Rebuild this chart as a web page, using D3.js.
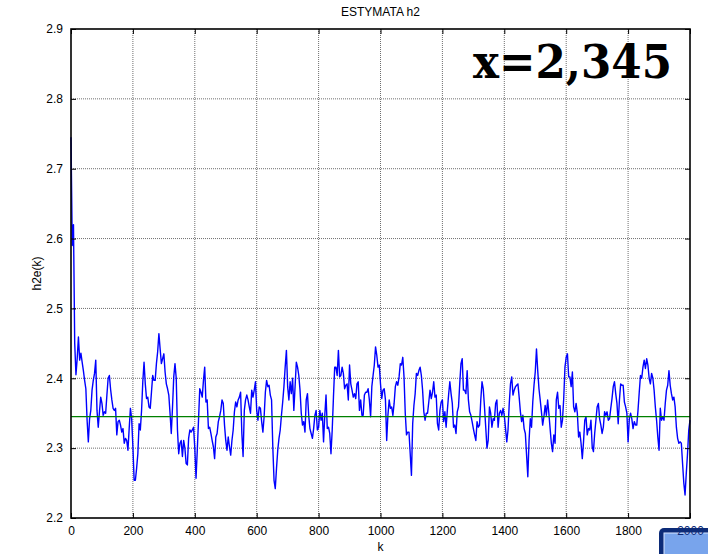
<!DOCTYPE html>
<html>
<head>
<meta charset="utf-8">
<script src="https://cdn.jsdelivr.net/npm/d3@7"></script>
<style>
  html, body { margin: 0; padding: 0; background: #fff; }
  svg { display: block; font-family: "Liberation Sans", Arial, sans-serif; }
</style>
</head>
<body>
<svg id="chart" width="708" height="554"></svg>
<script>
const h2e_0_400 = [
  2.745, 2.59, 2.62, 2.45, 2.405, 2.428, 2.459, 2.426, 2.436, 2.423,
  2.411, 2.397, 2.385, 2.34, 2.309, 2.342, 2.354, 2.383, 2.397, 2.407,
  2.426, 2.354, 2.33, 2.352, 2.373, 2.364, 2.347, 2.352, 2.35, 2.376,
  2.40, 2.404, 2.384, 2.369, 2.357, 2.354, 2.357, 2.319, 2.338, 2.34,
  2.333, 2.323, 2.328, 2.307, 2.314, 2.311, 2.297, 2.328, 2.357, 2.342,
  2.302, 2.254, 2.254, 2.271, 2.292, 2.335, 2.326, 2.354, 2.395, 2.423,
  2.392, 2.371, 2.373, 2.359, 2.357, 2.38, 2.404, 2.397, 2.397, 2.421,
  2.438, 2.464, 2.442, 2.421, 2.428, 2.435, 2.409, 2.392, 2.385, 2.376,
  2.35, 2.321, 2.359, 2.402, 2.421, 2.40, 2.326, 2.292, 2.307, 2.311,
  2.288, 2.311, 2.30, 2.278, 2.276, 2.314, 2.326, 2.323, 2.326, 2.33
];
const h2e_400_800 = [
  2.30, 2.257, 2.297, 2.34, 2.385, 2.38, 2.373, 2.397, 2.416, 2.366,
  2.369, 2.328, 2.33, 2.321, 2.311, 2.302, 2.285, 2.316, 2.321, 2.338,
  2.345, 2.354, 2.369, 2.364, 2.333, 2.311, 2.297, 2.316, 2.302, 2.29,
  2.311, 2.326, 2.352, 2.366, 2.359, 2.369, 2.373, 2.38, 2.321, 2.288,
  2.354, 2.369, 2.376, 2.369, 2.359, 2.35, 2.383, 2.373, 2.383, 2.395,
  2.354, 2.34, 2.359, 2.357, 2.338, 2.323, 2.345, 2.38, 2.397, 2.388,
  2.39, 2.376, 2.369, 2.302, 2.254, 2.242, 2.271, 2.297, 2.314, 2.326,
  2.347, 2.366, 2.388, 2.416, 2.44, 2.388, 2.369, 2.395, 2.378, 2.40,
  2.354, 2.388, 2.423, 2.416, 2.404, 2.383, 2.35, 2.333, 2.338, 2.323,
  2.369, 2.378, 2.347, 2.328, 2.321, 2.314, 2.328, 2.347, 2.354, 2.326
];
const h2e_800_1200 = [
  2.33, 2.354, 2.34, 2.35, 2.309, 2.347, 2.376, 2.328, 2.33, 2.321,
  2.292, 2.326, 2.373, 2.416, 2.416, 2.404, 2.44, 2.402, 2.404, 2.416,
  2.407, 2.385, 2.39, 2.392, 2.369, 2.419, 2.392, 2.383, 2.373, 2.378,
  2.371, 2.392, 2.395, 2.354, 2.369, 2.347, 2.347, 2.376, 2.38, 2.38,
  2.385, 2.369, 2.345, 2.388, 2.404, 2.419, 2.445, 2.433, 2.416, 2.419,
  2.392, 2.371, 2.383, 2.385, 2.369, 2.311, 2.347, 2.369, 2.357, 2.359,
  2.347, 2.364, 2.388, 2.395, 2.39, 2.402, 2.421, 2.419, 2.43, 2.402,
  2.35, 2.319, 2.323, 2.323, 2.292, 2.261, 2.335, 2.361, 2.378, 2.407,
  2.404, 2.411, 2.416, 2.404, 2.383, 2.352, 2.34, 2.35, 2.35, 2.366,
  2.383, 2.371, 2.38, 2.395, 2.373, 2.376, 2.335, 2.326, 2.354, 2.366
];
const h2e_1200_1600 = [
  2.369, 2.338, 2.352, 2.33, 2.354, 2.376, 2.395, 2.378, 2.364, 2.33,
  2.333, 2.321, 2.352, 2.359, 2.392, 2.421, 2.428, 2.383, 2.383, 2.378,
  2.411, 2.369, 2.352, 2.347, 2.338, 2.328, 2.319, 2.311, 2.338, 2.33,
  2.333, 2.369, 2.395, 2.385, 2.359, 2.33, 2.30, 2.311, 2.359, 2.35,
  2.33, 2.342, 2.34, 2.364, 2.369, 2.33, 2.35, 2.354, 2.347, 2.357,
  2.347, 2.328, 2.309, 2.326, 2.364, 2.392, 2.402, 2.376, 2.383, 2.388,
  2.39, 2.392, 2.373, 2.352, 2.338, 2.347, 2.328, 2.321, 2.29, 2.259,
  2.311, 2.342, 2.33, 2.366, 2.39, 2.409, 2.442, 2.411, 2.385, 2.369,
  2.352, 2.333, 2.345, 2.361, 2.347, 2.369, 2.35, 2.328, 2.307, 2.295,
  2.319, 2.307, 2.369, 2.38, 2.357, 2.361, 2.33, 2.34, 2.371, 2.416
];
const h2e_1600_2000 = [
  2.43, 2.435, 2.402, 2.402, 2.388, 2.409, 2.359, 2.352, 2.364, 2.35,
  2.316, 2.323, 2.307, 2.285, 2.309, 2.34, 2.345, 2.319, 2.328, 2.326,
  2.34, 2.302, 2.295, 2.321, 2.34, 2.359, 2.364, 2.342, 2.333, 2.321,
  2.33, 2.352, 2.347, 2.352, 2.34, 2.342, 2.357, 2.371, 2.388, 2.395,
  2.378, 2.364, 2.335, 2.369, 2.392, 2.39, 2.39, 2.366, 2.359, 2.35,
  2.309, 2.342, 2.35, 2.342, 2.328, 2.338, 2.333, 2.333, 2.354, 2.38,
  2.404, 2.40, 2.416, 2.426, 2.414, 2.428, 2.419, 2.40, 2.392, 2.407,
  2.40, 2.383, 2.359, 2.34, 2.316, 2.297, 2.357, 2.34, 2.345, 2.34,
  2.364, 2.383, 2.39, 2.411, 2.39, 2.378, 2.369, 2.373, 2.359, 2.33,
  2.314, 2.307, 2.309, 2.307, 2.278, 2.25, 2.233, 2.264, 2.292, 2.326,
  2.34
];
const kStep = 4;
const trueValue = 2.345;
const xTicks = [0, 200, 400, 600, 800, 1000, 1200, 1400, 1600, 1800, 2000];
const yTicks = [2.2, 2.3, 2.4, 2.5, 2.6, 2.7, 2.8, 2.9];
const titleText = 'ESTYMATA h2';
const xLabel = 'k';
const yLabel = 'h2e(k)';
const noteText = 'x=2,345';

const h2e = [].concat(h2e_0_400, h2e_400_800, h2e_800_1200, h2e_1200_1600, h2e_1600_2000);

const svg = d3.select('#chart');
const margin = { top: 29, right: 18, bottom: 36, left: 71 };
const width = +svg.attr('width') - margin.left - margin.right;
const height = +svg.attr('height') - margin.top - margin.bottom;

const x = d3.scaleLinear().domain([0, 2000]).range([0, width]);
const y = d3.scaleLinear().domain([2.2, 2.9]).range([height, 0]);

// the blue button sitting over the bottom right corner
const badge = svg.append('g').attr('id', 'badge');
badge.append('rect')
  .attr('x', 659).attr('y', 528).attr('width', 60).attr('height', 34).attr('rx', 5)
  .attr('fill', '#0c2b78');
badge.append('rect')
  .attr('x', 664).attr('y', 533).attr('width', 50).attr('height', 30)
  .attr('fill', '#78a4ec')
  .attr('stroke', '#d7e5ff');

const g = svg.append('g')
  .attr('transform', `translate(${margin.left},${margin.top})`);

// dotted grid
g.append('g').attr('id', 'grid')
  .selectAll('line.v')
  .data(xTicks.slice(1, -1))
  .enter()
  .append('line')
  .attr('x1', d => x(d)).attr('x2', d => x(d))
  .attr('y1', 0).attr('y2', height)
  .attr('stroke', '#6e6e6e')
  .attr('stroke-dasharray', '1,1');

g.select('#grid')
  .selectAll('line.h')
  .data(yTicks.slice(1, -1))
  .enter()
  .append('line')
  .attr('x1', 0).attr('x2', width)
  .attr('y1', d => y(d)).attr('y2', d => y(d))
  .attr('stroke', '#6e6e6e')
  .attr('stroke-dasharray', '1,1');

const line = d3.line()
  .x((d, i) => x(i * kStep))
  .y(d => y(d));

g.append('path')
  .datum(h2e)
  .attr('fill', 'none')
  .attr('stroke', '#0000ff')
  .attr('stroke-width', 1.4)
  .attr('stroke-linejoin', 'round')
  .attr('d', line);

g.append('line')
  .attr('x1', x(0)).attr('x2', x(2000))
  .attr('y1', y(trueValue)).attr('y2', y(trueValue))
  .attr('stroke', '#008000')
  .attr('stroke-width', 1.2);

// axes, ticks pointing inwards like matlab
const fmtY = d3.format('.1f');
const xAxis = g.append('g')
  .attr('transform', `translate(0,${height})`)
  .call(d3.axisBottom(x).tickValues(xTicks).tickSizeInner(-5).tickSizeOuter(0).tickPadding(8).tickFormat(d3.format('d')));
g.append('g')
  .call(d3.axisTop(x).tickValues(xTicks).tickSizeInner(-5).tickSizeOuter(0).tickFormat(''));
g.append('g')
  .call(d3.axisLeft(y).tickValues(yTicks).tickSizeInner(-5).tickSizeOuter(0).tickPadding(8).tickFormat(fmtY));
g.append('g')
  .attr('transform', `translate(${width},0)`)
  .call(d3.axisRight(y).tickValues(yTicks).tickSizeInner(-5).tickSizeOuter(0).tickFormat(''));

g.selectAll('.domain').remove();
g.selectAll('.tick line').attr('stroke', '#000');
g.selectAll('.tick text')
  .attr('fill', '#000')
  .style('font-size', '12px')
  .style('font-family', '"Liberation Sans", Arial, sans-serif');
xAxis.selectAll('.tick text').filter(d => d === 2000).attr('fill', '#0c2b78');

g.append('rect')
  .attr('x', 0).attr('y', 0)
  .attr('width', width).attr('height', height)
  .attr('fill', 'none')
  .attr('stroke', '#000')
  .attr('stroke-width', 1.6);

// labels
svg.append('text')
  .attr('x', margin.left + width / 2)
  .attr('y', 16)
  .attr('text-anchor', 'middle')
  .style('font-size', '12px')
  .text(titleText);

svg.append('text')
  .attr('x', margin.left + width / 2)
  .attr('y', 551)
  .attr('text-anchor', 'middle')
  .style('font-size', '12px')
  .text(xLabel);

svg.append('text')
  .attr('transform', `translate(41,${margin.top + height / 2}) rotate(-90)`)
  .attr('text-anchor', 'middle')
  .style('font-size', '12px')
  .text(yLabel);

svg.append('text')
  .attr('x', 473)
  .attr('y', 78)
  .attr('textLength', 199)
  .attr('lengthAdjust', 'spacingAndGlyphs')
  .style('font-family', '"DejaVu Serif", "Liberation Serif", serif')
  .style('font-weight', 'bold')
  .style('font-size', '46px')
  .text(noteText);
</script>
</body>
</html>
